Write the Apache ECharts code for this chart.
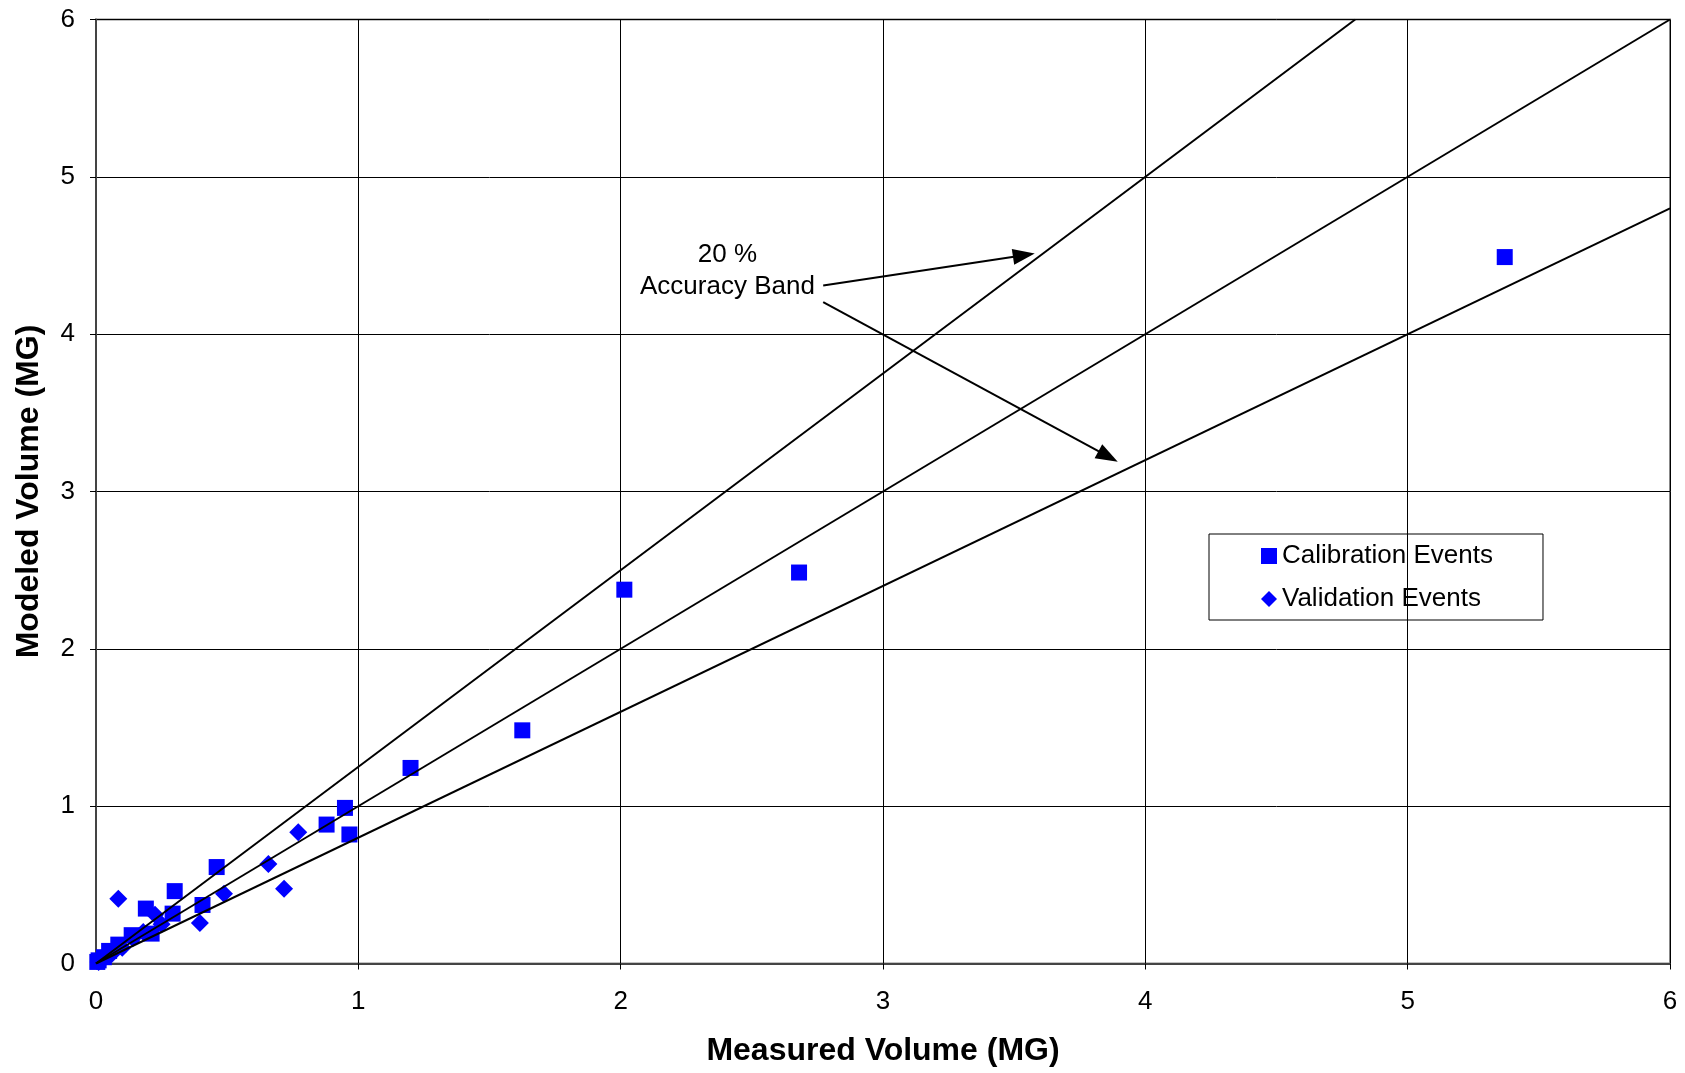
<!DOCTYPE html>
<html>
<head>
<meta charset="utf-8">
<script src="https://cdn.jsdelivr.net/npm/echarts@6/dist/echarts.min.js"></script>
<style>
  html, body { margin: 0; padding: 0; background: #fff; }
  #chart { width: 1685px; height: 1073px; }
</style>
</head>
<body>
<div id="chart"></div>
<script>
  // 实测 vs 模拟 体积
  var calibration = [
    [5.37, 4.49], [2.68, 2.485], [2.014, 2.376], [1.625, 1.482], [1.199, 1.243],
    [0.949, 0.989], [0.879, 0.883], [0.966, 0.82], [0.46, 0.613], [0.30, 0.46],
    [0.406, 0.372], [0.19, 0.349], [0.292, 0.317], [0.212, 0.19], [0.136, 0.18],
    [0.085, 0.12], [0.05, 0.08], [0.03, 0.04], [0.01, 0.02], [0.005, 0.01]
  ]
  var validation = [
    [0.771, 0.834], [0.657, 0.633], [0.717, 0.475], [0.488, 0.443], [0.396, 0.258],
    [0.085, 0.411], [0.225, 0.31], [0.25, 0.25], [0.14, 0.16], [0.10, 0.10],
    [0.06, 0.06], [0.03, 0.03], [0.01, 0.01], [0.18, 0.2]
  ]
  // 1:1 线和 20% 精度带
  var lineEqual = [[0, 0], [6, 6]]
  var lineUpper = [[0, 0], [4.8, 6]]
  var lineLower = [[0, 0], [6, 4.8]]
  // 标注箭头 (起点, 终点)
  var arrowUp = [[2.772, 4.309], [3.537, 4.502]]
  var arrowDown = [[2.772, 4.204], [3.858, 3.223]]
  var noteText = '20 %\nAccuracy Band'
  var notePos = [2.407, 4.40]

  var font = 'Arial, "Liberation Sans", sans-serif'
  var chart = echarts.init(document.getElementById('chart'))

  function bandLine(data) {
    return {
      type: 'line',
      data: data,
      symbol: 'none',
      silent: true,
      z: 5,
      lineStyle: { color: '#000', width: 2 }
    }
  }

  var option = {
    animation: false,
    grid: {
      left: 96,
      top: 19.5,
      right: 15,
      bottom: 109.5,
      show: true,
      borderColor: '#888',
      borderWidth: 2
    },
    legend: {
      orient: 'vertical',
      left: 1209,
      top: 534,
      padding: [9, 50, 8, 52],
      borderColor: '#000',
      borderWidth: 1,
      itemWidth: 16,
      itemHeight: 16,
      itemGap: 17,
      textStyle: { fontFamily: font, fontSize: 26, color: '#000', lineHeight: 26 },
      data: [
        { name: 'Calibration Events', icon: 'rect' },
        { name: 'Validation Events', icon: 'diamond' }
      ]
    },
    xAxis: {
      type: 'value',
      min: 0,
      max: 6,
      interval: 1,
      name: 'Measured Volume (MG)',
      nameLocation: 'middle',
      nameGap: 72,
      nameTextStyle: { fontFamily: font, fontSize: 32, fontWeight: 'bold', color: '#000' },
      axisLine: { lineStyle: { color: '#444', width: 2 } },
      axisTick: { show: true, length: 6, lineStyle: { color: '#000' } },
      axisLabel: { margin: 25, fontFamily: font, fontSize: 26, color: '#000' },
      splitLine: { lineStyle: { color: '#000', width: 1 } }
    },
    yAxis: {
      type: 'value',
      min: 0,
      max: 6,
      interval: 1,
      name: 'Modeled Volume (MG)',
      nameLocation: 'middle',
      nameGap: 51,
      nameTextStyle: { fontFamily: font, fontSize: 32, fontWeight: 'bold', color: '#000' },
      axisLine: { lineStyle: { color: '#444', width: 2 } },
      axisTick: { show: true, length: 6, lineStyle: { color: '#000' } },
      axisLabel: { margin: 21, fontFamily: font, fontSize: 26, color: '#000' },
      splitLine: { lineStyle: { color: '#000', width: 1 } }
    },
    series: [
      {
        name: 'Calibration Events',
        type: 'scatter',
        symbol: 'rect',
        symbolSize: 16,
        itemStyle: { color: '#0000FF', opacity: 1 },
        data: calibration
      },
      {
        name: 'Validation Events',
        type: 'scatter',
        symbol: 'diamond',
        symbolSize: 18,
        itemStyle: { color: '#0000FF', opacity: 1 },
        data: validation
      },
      bandLine(lineEqual),
      bandLine(lineUpper),
      bandLine(lineLower),
      {
        type: 'scatter',
        data: [],
        silent: true,
        markLine: {
          silent: true,
          symbol: ['none', 'triangle'],
          symbolSize: [16, 22],
          label: { show: false },
          lineStyle: { color: '#000', width: 2, type: 'solid' },
          data: [
            [{ coord: arrowUp[0] }, { coord: arrowUp[1] }],
            [{ coord: arrowDown[0] }, { coord: arrowDown[1] }]
          ]
        }
      },
      {
        type: 'scatter',
        silent: true,
        symbolSize: 1,
        itemStyle: { color: 'rgba(0,0,0,0)' },
        label: {
          show: true,
          position: 'inside',
          formatter: noteText,
          fontFamily: font,
          fontSize: 26,
          lineHeight: 32,
          color: '#000',
          opacity: 1,
          textBorderWidth: 0,
          align: 'center',
          verticalAlign: 'middle'
        },
        data: [notePos]
      }
    ]
  };
  chart.setOption(option);
  window.addEventListener('resize', () => {
    chart.resize()
  })
</script>
</body>
</html>
